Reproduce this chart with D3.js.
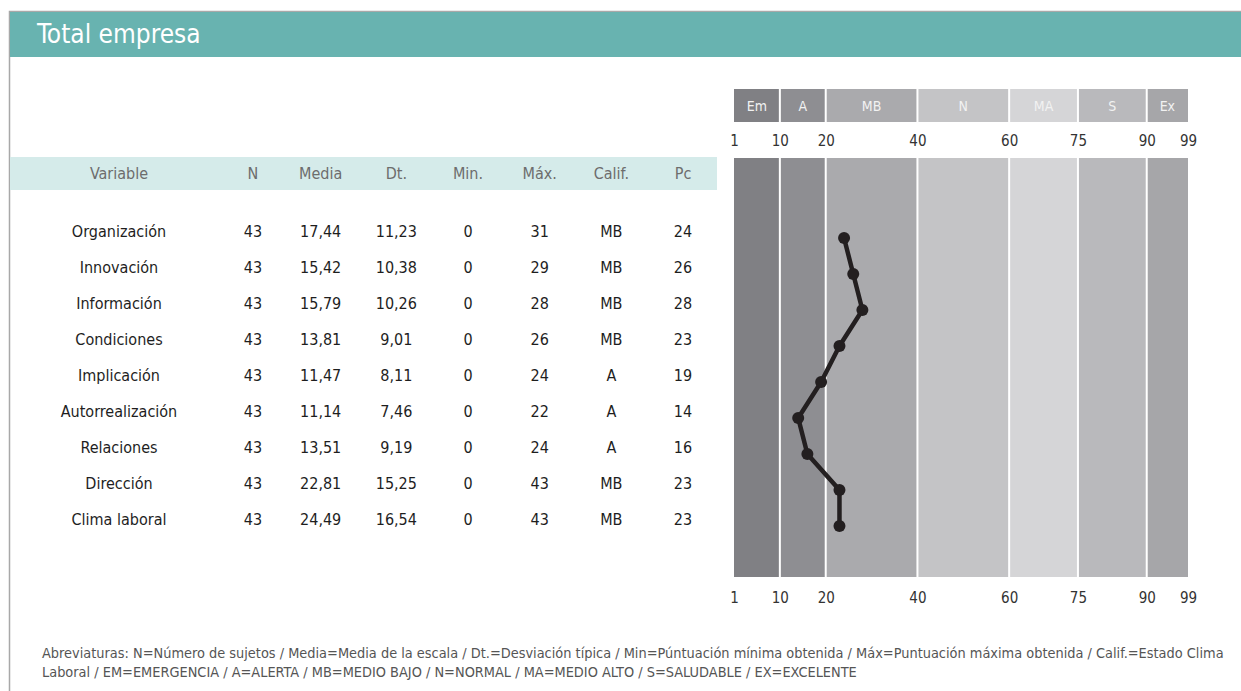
<!DOCTYPE html>
<html>
<head>
<meta charset="utf-8">
<script src="https://cdn.jsdelivr.net/npm/d3@7"></script>
<style>
  body { margin: 0; background: #fff; }
  svg text { font-family: "DejaVu Sans Condensed", "DejaVu Sans", sans-serif; }
</style>
</head>
<body>
<div id="chart"></div>
<script>
// datos de la tabla
var variables = ["Organización", "Innovación", "Información", "Condiciones", "Implicación",
                 "Autorrealización", "Relaciones", "Dirección", "Clima laboral"];
var nSujetos = [43, 43, 43, 43, 43, 43, 43, 43, 43];
var media = [17.44, 15.42, 15.79, 13.81, 11.47, 11.14, 13.51, 22.81, 24.49];
var desv = [11.23, 10.38, 10.26, 9.01, 8.11, 7.46, 9.19, 15.25, 16.54];
var minimo = [0, 0, 0, 0, 0, 0, 0, 0, 0];
var maximo = [31, 29, 28, 26, 24, 22, 24, 43, 43];
var calif = ["MB", "MB", "MB", "MB", "A", "A", "A", "MB", "MB"];
var percentil = [24, 26, 28, 23, 19, 14, 16, 23, 23];

var columnas = ["Variable", "N", "Media", "Dt.", "Min.", "Máx.", "Calif.", "Pc"];

// franjas del grafico de percentiles
var franjas = ["Em", "A", "MB", "N", "MA", "S", "Ex"];
var limites = [0, 10, 20, 40, 60, 75, 90, 99];
var etiquetasEje = ["1", "10", "20", "40", "60", "75", "90", "99"];
var coloresFranja = ["#808084", "#8e8e92", "#aaaaad", "#c4c4c6", "#d5d5d7", "#b9b9bc", "#a6a6a9"];

var abreviaturas = [
    "Abreviaturas: N=Número de sujetos / Media=Media de la escala / Dt.=Desviación típica / Min=Púntuación mínima obtenida / Máx=Puntuación máxima obtenida / Calif.=Estado Clima",
    "Laboral / EM=EMERGENCIA / A=ALERTA / MB=MEDIO BAJO / N=NORMAL / MA=MEDIO ALTO / S=SALUDABLE / EX=EXCELENTE"
];

var w = 1241;
var h = 691;

var svg = d3.select("#chart")
    .append("svg")
    .attr("width", w)
    .attr("height", h);

// marco y cabecera
svg.append("path")
    .attr("d", "M9.5," + h + "V11.5H" + w)
    .attr("fill", "none")
    .attr("stroke", "#a8a8a8")
    .attr("stroke-width", 1.5);

svg.append("rect")
    .attr("x", 10).attr("y", 12)
    .attr("width", w - 10).attr("height", 45)
    .attr("fill", "#68b3b0");

svg.append("text")
    .text("Total empresa")
    .attr("x", 37).attr("y", 43)
    .attr("fill", "#fff")
    .style("font-size", "26px");

// tabla
var num = d3.formatLocale({ decimal: ",", thousands: ".", grouping: [3], currency: ["", "€"] }).format(".2f");

var xCol = d3.scalePoint()
    .domain(columnas.slice(1))
    .range([253, 683]);

function colX(c) {
    // la columna Variable va mas a la izquierda
    return c === "Variable" ? 119 : xCol(c) - (c === "Media" ? 4 : 0);
}

var yFila = d3.scalePoint()
    .domain(variables)
    .range([231, 519]);

svg.append("rect")
    .attr("x", 10).attr("y", 157)
    .attr("width", 707).attr("height", 33)
    .attr("fill", "#d5ebea");

svg.selectAll("text.cabecera")
    .data(columnas)
    .enter()
    .append("text")
    .attr("class", "cabecera")
    .text(function(d) { return d; })
    .attr("x", function(d) { return colX(d); })
    .attr("y", 179)
    .attr("text-anchor", "middle")
    .attr("fill", "#6d6d6d")
    .style("font-size", "16px");

var filas = variables.map(function(v, i) {
    return [v, nSujetos[i], num(media[i]), num(desv[i]), minimo[i], maximo[i], calif[i], percentil[i]];
});

var g = svg.selectAll("g.fila")
    .data(filas)
    .enter()
    .append("g")
    .attr("class", "fila")
    .attr("transform", function(d) { return "translate(0," + yFila(d[0]) + ")"; });

g.selectAll("text")
    .data(function(d) { return d; })
    .enter()
    .append("text")
    .text(function(d) { return d; })
    .attr("x", function(d, i) { return colX(columnas[i]); })
    .attr("y", 6)
    .attr("text-anchor", "middle")
    .attr("fill", "#1e1e1e")
    .style("font-size", "16px");

// grafico de percentiles
var x = d3.scaleLinear()
    .domain([0, 99])
    .range([734, 1188]);

var bandas = franjas.map(function(f, i) {
    return { nombre: f, desde: limites[i], hasta: limites[i + 1], color: coloresFranja[i] };
});

// franja de etiquetas
svg.selectAll("rect.etiqueta")
    .data(bandas)
    .enter()
    .append("rect")
    .attr("class", "etiqueta")
    .attr("x", function(d) { return x(d.desde); })
    .attr("y", 89)
    .attr("width", function(d) { return x(d.hasta) - x(d.desde); })
    .attr("height", 33)
    .attr("fill", function(d) { return d.color; });

svg.selectAll("text.franja")
    .data(bandas)
    .enter()
    .append("text")
    .attr("class", "franja")
    .text(function(d) { return d.nombre; })
    .attr("x", function(d) { return (x(d.desde) + x(d.hasta)) / 2; })
    .attr("y", 111)
    .attr("text-anchor", "middle")
    .attr("fill", "#f2f2f2")
    .style("font-size", "14px");

// fondo
svg.selectAll("rect.fondo")
    .data(bandas)
    .enter()
    .append("rect")
    .attr("class", "fondo")
    .attr("x", function(d) { return x(d.desde); })
    .attr("y", 158)
    .attr("width", function(d) { return x(d.hasta) - x(d.desde); })
    .attr("height", 419)
    .attr("fill", function(d) { return d.color; });

// separadores blancos
svg.selectAll("line.sep")
    .data(limites.slice(1, -1))
    .enter()
    .append("line")
    .attr("class", "sep")
    .attr("x1", function(d) { return x(d); })
    .attr("x2", function(d) { return x(d); })
    .attr("y1", 89).attr("y2", 577)
    .attr("stroke", "#fff")
    .attr("stroke-width", 2);

svg.append("rect")
    .attr("x", 730).attr("y", 122)
    .attr("width", 470).attr("height", 36)
    .attr("fill", "#fff");

// ejes
var ejeArriba = d3.axisTop(x)
    .tickValues(limites)
    .tickSize(0)
    .tickFormat(function(d, i) { return etiquetasEje[i]; });

var ejeAbajo = d3.axisBottom(x)
    .tickValues(limites)
    .tickSize(0)
    .tickFormat(function(d, i) { return etiquetasEje[i]; });

[[ejeArriba, 149], [ejeAbajo, 589]].forEach(function(e) {
    var ga = svg.append("g")
        .attr("transform", "translate(0," + e[1] + ")")
        .call(e[0]);
    ga.select(".domain").remove();
    ga.selectAll("text")
        .attr("fill", "#333")
        .style("font-size", "15px")
        .style("font-family", "'DejaVu Sans Condensed', sans-serif");
});

// linea de percentiles
var yPunto = d3.scalePoint()
    .domain(variables)
    .range([238, 526]);

var linea = d3.line()
    .x(function(d, i) { return x(percentil[i]); })
    .y(function(d) { return yPunto(d); });

svg.append("path")
    .datum(variables)
    .attr("d", linea)
    .attr("fill", "none")
    .attr("stroke", "#231f20")
    .attr("stroke-width", 4.5)
    .attr("stroke-linejoin", "round");

svg.selectAll("circle")
    .data(variables)
    .enter()
    .append("circle")
    .attr("cx", function(d, i) { return x(percentil[i]); })
    .attr("cy", function(d) { return yPunto(d); })
    .attr("r", 6)
    .attr("fill", "#231f20");

// pie
svg.selectAll("text.pie")
    .data(abreviaturas)
    .enter()
    .append("text")
    .attr("class", "pie")
    .text(function(d) { return d; })
    .attr("x", 42)
    .attr("y", function(d, i) { return 658 + i * 19; })
    .attr("fill", "#555")
    .style("font-size", "14.4px");
</script>
</body>
</html>
